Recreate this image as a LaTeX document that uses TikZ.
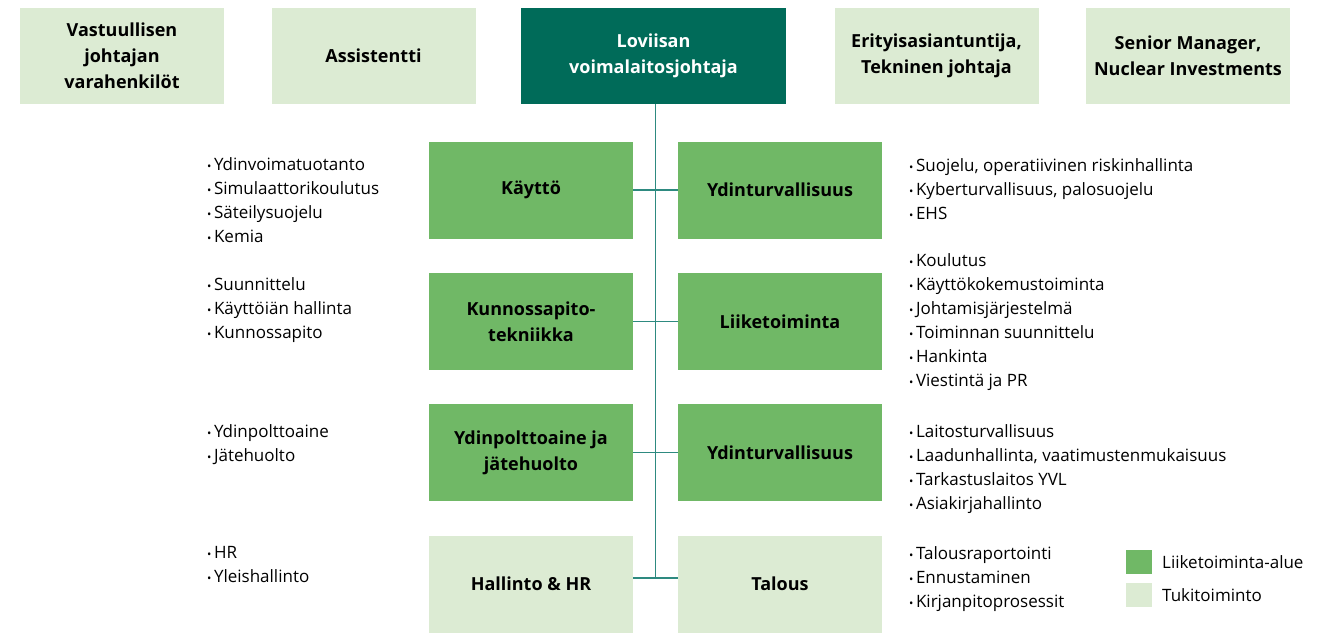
\documentclass[tikz,border=0pt]{standalone}
\usepackage{fontspec}
\setmainfont{Open Sans}
\definecolor{darkteal}{RGB}{0,107,89}
\definecolor{midgreen}{RGB}{112,184,102}
\definecolor{lightgreen}{RGB}{220,235,211}
\definecolor{linecol}{RGB}{46,138,128}
\newcommand{\bul}{\raisebox{0.3pt}{\fontsize{11.5}{10}\selectfont•}\hspace{2.5pt}}
\tikzset{
  box/.style={rectangle, inner sep=2pt, align=center, text=black,
    font=\fontsize{18}{26}\selectfont\bfseries},
  topbox/.style={box, fill=lightgreen, minimum width=204pt, minimum height=96pt},
  headbox/.style={box, fill=darkteal, text=white, minimum width=265pt, minimum height=96pt},
  busbox/.style={box, fill=midgreen, minimum width=204pt, minimum height=97pt},
  supbox/.style={box, fill=lightgreen, minimum width=204pt, minimum height=97pt},
  conn/.style={draw=linecol, line width=1.3pt},
  list/.style={anchor=west, align=left, inner sep=0pt, text=black,
    font=\fontsize{17}{24}\selectfont},
  legsq/.style={rectangle, minimum width=26pt, minimum height=24pt, inner sep=0pt},
  legtxt/.style={anchor=west, inner sep=0pt, font=\fontsize{17}{18}\selectfont}
}
\begin{document}
\begin{tikzpicture}[x=1pt,y=-1pt]
\useasboundingbox (0,0) rectangle (1334,635);
% top row
\node[topbox] (vara) at (122,56) {Vastuullisen\\johtajan\\varahenkilöt};
\node[topbox] (assi) at (373.5,56) {Assistentti};
\node[headbox] (head) at (653.5,56) {Loviisan\\voimalaitosjohtaja};
\node[topbox] (erit) at (936.5,56) {Erityisasiantuntija,\\Tekninen johtaja};
\node[topbox] (seni) at (1188,56) {Senior Manager,\\Nuclear Investments};
% middle boxes
\node[busbox] (kay) at (531,190) {Käyttö};
\node[busbox] (yt1) at (780,190) {Ydinturvallisuus};
\node[busbox] (kun) at (531,321.5) {Kunnossapito-\\tekniikka};
\node[busbox] (lii) at (780,321.5) {Liiketoiminta};
\node[busbox] (ydp) at (531,452.5) {Ydinpolttoaine ja\\jätehuolto};
\node[busbox] (yt2) at (780,452.5) {Ydinturvallisuus};
\node[supbox] (hal) at (531,584) {Hallinto \& HR};
\node[supbox] (tal) at (780,584) {Talous};
% connectors
\coordinate (bot) at (655.5,578);
\draw[conn] (head.south -| bot) -- (bot);
\draw[conn] (kay.east) -- (yt1.west);
\draw[conn] (kun.east) -- (lii.west);
\draw[conn] (ydp.east) -- (yt2.west);
\draw[conn] ([yshift=6pt]hal.east) -- ([yshift=6pt]tal.west);
% left lists
\node[list] (l1) at (207,200.5) {\bul Ydinvoimatuotanto\\\bul Simulaattorikoulutus\\\bul Säteilysuojelu\\\bul Kemia};
\node[list] (l2) at (207,310) {\bul Suunnittelu\\\bul Käyttöiän hallinta\\\bul Kunnossapito};
\node[list] (l3) at (207,445) {\bul Ydinpolttoaine\\\bul Jätehuolto};
\node[list] (l4) at (207,565) {\bul HR\\\bul Yleishallinto};
% right lists
\node[list] (r1) at (909,189) {\bul Suojelu, operatiivinen riskinhallinta\\\bul Kyberturvallisuus, palosuojelu\\\bul EHS};
\node[list] (r2) at (909,322.5) {\bul Koulutus\\\bul Käyttökokemustoiminta\\\bul Johtamisjärjestelmä\\\bul Toiminnan suunnittelu\\\bul Hankinta\\\bul Viestintä ja PR};
\node[list] (r3) at (909,469) {\bul Laitosturvallisuus\\\bul Laadunhallinta, vaatimustenmukaisuus\\\bul Tarkastuslaitos YVL\\\bul Asiakirjahallinto};
\node[list] (r4) at (909,579) {\bul Talousraportointi\\\bul Ennustaminen\\\bul Kirjanpitoprosessit};
% legend
\node[legsq, fill=midgreen] (lg1) at (1139,561.5) {};
\node[legtxt] (lt1) at (1162,562) {Liiketoiminta-alue};
\node[legsq, fill=lightgreen] (lg2) at (1139,594.5) {};
\node[legtxt] (lt2) at (1162,595) {Tukitoiminto};
\end{tikzpicture}
\end{document}
